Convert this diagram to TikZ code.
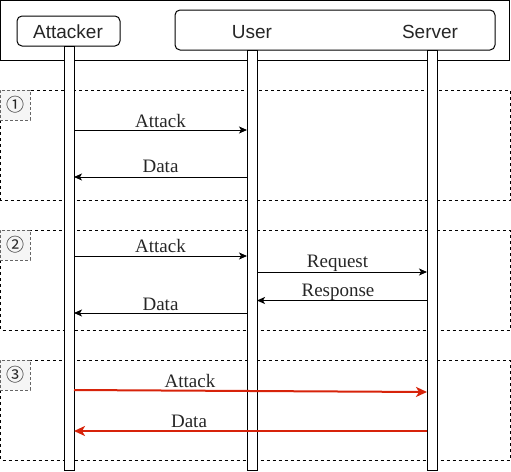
\documentclass[tikz,border=0pt]{standalone}
\usepackage{fontspec}
\setmainfont{Liberation Serif}
\setsansfont{Liberation Sans}
\newfontfamily\circfont{Noto Sans CJK SC}
\usetikzlibrary{arrows.meta}
\definecolor{attred}{RGB}{215,35,10}
\definecolor{tagfill}{RGB}{245,245,245}
\tikzset{
  hdrbox/.style={draw, line width=1pt, rounded corners=5pt},
  hdrtext/.style={font=\sffamily\fontsize{19}{22}\selectfont, text=black!85, anchor=base},
  bar/.style={draw, fill=white, line width=1pt},
  frame/.style={draw, line width=0.8pt, dash pattern=on 3pt off 3pt},
  tagbox/.style={draw=black!60, fill=tagfill, line width=0.8pt, dash pattern=on 3pt off 2pt},
  tagtext/.style={font=\circfont\fontsize{18}{20}\selectfont, text=black!85},
  msg/.style={line width=0.9pt, -{Stealth[length=8pt,width=7pt,inset=2pt]}},
  redmsg/.style={line width=2pt, draw=attred, -{Stealth[length=11pt,width=10pt,inset=3pt]}},
  lbl/.style={font=\fontsize{19}{22}\selectfont, text=black!85, anchor=base, inner sep=0pt},
}
\begin{document}
\begin{tikzpicture}[x=1pt,y=-1pt]
\useasboundingbox (0,0) rectangle (511,471);
% header
\draw[line width=1pt] (0.5,0.5) rectangle (509,60);
\draw[hdrbox] (17,16) rectangle (120,46);
\draw[hdrbox] (175,10) rectangle (495,50);
\node[hdrtext] (tA) at (68,38) {Attacker};
\node[hdrtext] (tU) at (252,38) {User};
\node[hdrtext] (tS) at (430,38) {Server};
% frames
\draw[frame] (0.5,90) rectangle (510,200);
\draw[frame] (0.5,230) rectangle (510,330);
\draw[frame] (0.5,360) rectangle (510,460);
\node[tagbox, minimum width=30pt, minimum height=30pt, inner sep=0pt] (g1) at (15,105) {};
\node[tagbox, minimum width=30pt, minimum height=30pt, inner sep=0pt] (g2) at (15,245) {};
\node[tagbox, minimum width=30pt, minimum height=30pt, inner sep=0pt] (g3) at (15,375) {};
\node[tagtext] (n1) at (g1) {①};
\node[tagtext] (n2) at (g2) {②};
\node[tagtext] (n3) at (g3) {③};
% lifelines
\draw[bar] (64,46) rectangle (74,470);
\draw[bar] (247,50) rectangle (257,470);
\draw[bar] (427,50) rectangle (437,470);
% endpoints
\coordinate (a1s) at (74,130); \coordinate (a1e) at (247,130);
\coordinate (d1s) at (247,177); \coordinate (d1e) at (74,177);
\coordinate (a2s) at (74,256); \coordinate (a2e) at (247,256);
\coordinate (r2s) at (257,272); \coordinate (r2e) at (427,272);
\coordinate (p2s) at (427,300.5); \coordinate (p2e) at (257,300.5);
\coordinate (d2s) at (247,313); \coordinate (d2e) at (74,313);
\coordinate (a3s) at (74,390); \coordinate (a3e) at (427,392);
\coordinate (d3s) at (427,431); \coordinate (d3e) at (74,431);
% messages
\draw[msg] (a1s) -- (a1e);
\draw[msg] (d1s) -- (d1e);
\draw[msg] (a2s) -- (a2e);
\draw[msg] (r2s) -- (r2e);
\draw[msg] (p2s) -- (p2e);
\draw[msg] (d2s) -- (d2e);
\draw[redmsg] (a3s) -- (a3e);
\draw[redmsg] (d3s) -- (d3e);
% labels
\node[lbl] (l1) at (160.5,127.5) {Attack};
\node[lbl] (l2) at (160.5,172.5) {Data};
\node[lbl] (l3) at (160.5,252) {Attack};
\node[lbl] (l4) at (337.5,267) {Request};
\node[lbl] (l5) at (338,296) {Response};
\node[lbl] (l6) at (160.5,310) {Data};
\node[lbl] (l7) at (190,387) {Attack};
\node[lbl] (l8) at (189,427) {Data};
\end{tikzpicture}
\end{document}
